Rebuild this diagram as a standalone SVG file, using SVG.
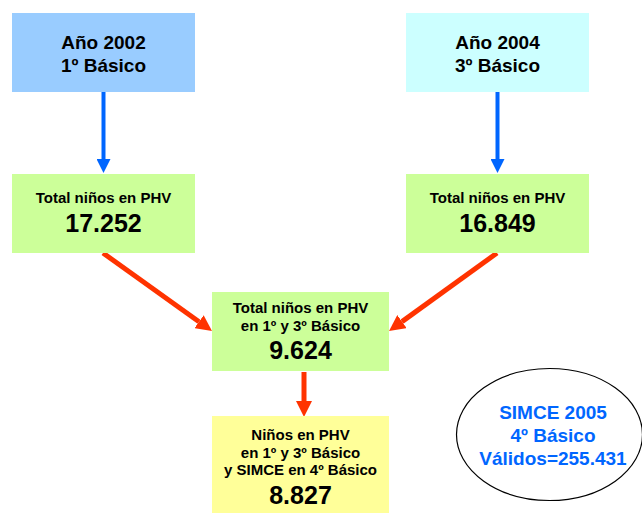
<svg xmlns="http://www.w3.org/2000/svg" width="642" height="513" viewBox="0 0 642 513">
<style>
text{font-family:"Liberation Sans",Arial,sans-serif;font-weight:bold;text-anchor:middle;fill:#000}
.big{font-size:19px}
.mid{font-size:15px}
.num{font-size:25px}
.blue{fill:#0066FF;font-size:19px}
</style>
<defs>
<marker id="hb" markerUnits="userSpaceOnUse" markerWidth="14" markerHeight="14" refX="0" refY="7" orient="auto"><path d="M0,0L14,7L0,14z" fill="#0066FF"/></marker>
<marker id="hr" markerUnits="userSpaceOnUse" markerWidth="16" markerHeight="16" refX="0" refY="8" orient="auto"><path d="M0,0L16,8L0,16z" fill="#FF3300"/></marker>
</defs>
<g id="connectors">
<line x1="103.5" y1="89" x2="103.5" y2="159" stroke="#0066FF" stroke-width="4" marker-end="url(#hb)"/>
<line x1="497.5" y1="89" x2="497.5" y2="159" stroke="#0066FF" stroke-width="4" marker-end="url(#hb)"/>
<line x1="103" y1="253" x2="199" y2="321.7" stroke="#FF3300" stroke-width="5" marker-end="url(#hr)"/>
<line x1="497" y1="253" x2="402" y2="321.6" stroke="#FF3300" stroke-width="5" marker-end="url(#hr)"/>
<line x1="304" y1="372" x2="304" y2="401" stroke="#FF3300" stroke-width="5" marker-end="url(#hr)"/>
</g>
<g id="n2002">
<rect x="12" y="13" width="183" height="79" fill="#99CCFF"/>
<text class="big" x="103.5" y="49">Año 2002</text>
<text class="big" x="103.5" y="72">1º Básico</text>
</g>
<g id="n2004">
<rect x="406" y="13" width="183" height="79" fill="#CCFFFF"/>
<text class="big" x="497.5" y="49">Año 2004</text>
<text class="big" x="497.5" y="72">3º Básico</text>
</g>
<g id="t1">
<rect x="12" y="174" width="183" height="79" fill="#CCFF99"/>
<text class="mid" x="103.5" y="203">Total niños en PHV</text>
<text class="num" x="103.5" y="232">17.252</text>
</g>
<g id="t3">
<rect x="406" y="174" width="183" height="79" fill="#CCFF99"/>
<text class="mid" x="497.5" y="203">Total niños en PHV</text>
<text class="num" x="497.5" y="232">16.849</text>
</g>
<g id="t13">
<rect x="212" y="292" width="177" height="79" fill="#CCFF99"/>
<text class="mid" x="300.5" y="313">Total niños en PHV</text>
<text class="mid" x="300.5" y="331">en 1º y 3º Básico</text>
<text class="num" x="300.5" y="359">9.624</text>
</g>
<g id="simce">
<rect x="212" y="416" width="177" height="100" fill="#FFFF99"/>
<text class="mid" x="300.5" y="440">Niños en PHV</text>
<text class="mid" x="300.5" y="458">en 1º y 3º Básico</text>
<text class="mid" x="300.5" y="475">y SIMCE en 4º Básico</text>
<text class="num" x="300.5" y="504">8.827</text>
</g>
<g id="valid">
<ellipse cx="549.5" cy="434.5" rx="93" ry="66" fill="#fff" stroke="#000" stroke-width="1.2"/>
<text class="blue" x="553" y="419">SIMCE 2005</text>
<text class="blue" x="553" y="442">4º Básico</text>
<text class="blue" x="553" y="465">Válidos=255.431</text>
</g>
</svg>
